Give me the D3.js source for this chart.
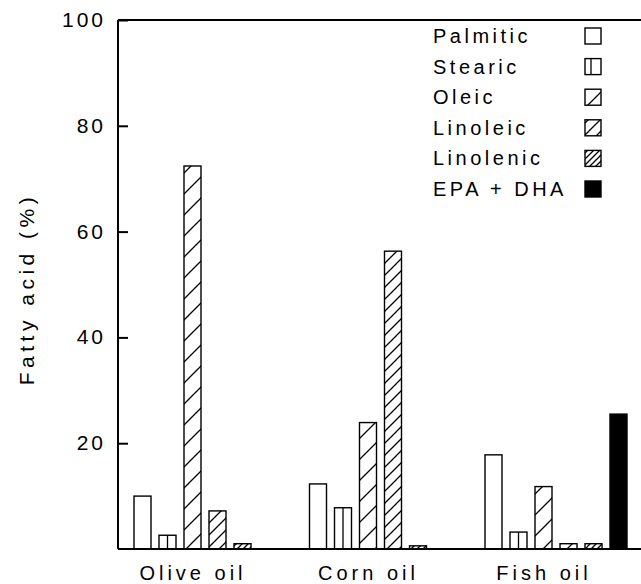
<!DOCTYPE html>
<html><head><meta charset="utf-8">
<script src="https://cdn.jsdelivr.net/npm/d3@7"></script>
<style>
html,body{margin:0;padding:0;background:#fff;}
text{font-family:"Liberation Sans",Arial,sans-serif;fill:#000;}
</style></head>
<body>
<svg id="chart" width="641" height="584"></svg>
<script>
const groups = ["Olive oil", "Corn oil", "Fish oil"];
const acids = ["Palmitic", "Stearic", "Oleic", "Linoleic", "Linolenic", "EPA + DHA"];
const palmitic = [10.0, 12.3, 17.8];
const stearic = [2.6, 7.8, 3.2];
const oleic = [72.4, 23.9, 11.8];
const linoleic = [7.2, 56.3, 1.0];
const linolenic = [1.0, 0.6, 1.0];
const epaDha = [0, 0, 25.5];
const yTicks = [20, 40, 60, 80, 100];

const values = {
  "Palmitic": palmitic, "Stearic": stearic, "Oleic": oleic,
  "Linoleic": linoleic, "Linolenic": linolenic, "EPA + DHA": epaDha
};

const svg = d3.select("#chart");
const y = d3.scaleLinear().domain([0, 100]).range([549, 20]);
const x0 = d3.scaleBand().domain(groups).range([134, 134 + 3 * 175.5]).padding(0);
const x1 = d3.scaleBand().domain(acids).range([0, 150]).paddingInner(0.32).paddingOuter(0.16);

const defs = svg.append("defs");
const hatch = {"Oleic": 21, "Linoleic": 12, "Linolenic": 6};
Object.entries(hatch).forEach(([k, s]) => {
  const p = defs.append("pattern").attr("id", "h-" + k).attr("patternUnits", "userSpaceOnUse")
    .attr("width", s).attr("height", s);
  p.append("rect").attr("width", s).attr("height", s).attr("fill", "#fff");
  p.append("path").attr("d", `M0,${s} L${s},0 M${-2},2 L2,${-2} M${s-2},${s+2} L${s+2},${s-2}`)
    .attr("stroke", "#000").attr("stroke-width", 1.3);
});
function fillFor(a) {
  if (a === "EPA + DHA") return "#000";
  if (hatch[a]) return "url(#h-" + a + ")";
  return "#fff";
}

// frame
svg.append("line").attr("x1", 118).attr("x2", 641).attr("y1", y(100)).attr("y2", y(100))
  .attr("stroke", "#000").attr("stroke-width", 2);
svg.append("line").attr("x1", 118).attr("x2", 118).attr("y1", y(100)).attr("y2", y(0))
  .attr("stroke", "#000").attr("stroke-width", 2);

// y axis ticks and labels
const yAxis = d3.axisRight(y).tickValues(yTicks).tickSize(10).tickFormat("");
const ga = svg.append("g").attr("transform", "translate(118,0)").call(yAxis);
ga.select(".domain").remove();
ga.selectAll(".tick line").attr("stroke", "#000").attr("stroke-width", 2);
svg.selectAll(".ylab").data(yTicks).enter().append("text")
  .attr("x", 106).attr("y", d => y(d) + 7).attr("text-anchor", "end")
  .style("font-size", "21px").style("letter-spacing", "3px").text(d => d);

svg.append("text").attr("transform", "translate(34,289) rotate(-90)")
  .attr("text-anchor", "middle").style("font-size", "21px").style("letter-spacing", "4.5px")
  .text("Fatty acid (%)");

// bars
groups.forEach((g, gi) => {
  acids.forEach(a => {
    const v = values[a][gi];
    if (v <= 0) return;
    const bx = x0(g) + x1(a) - x1(acids[0]);
    const bw = x1.bandwidth();
    svg.append("rect").attr("x", bx).attr("y", y(v)).attr("width", bw).attr("height", y(0) - y(v))
      .attr("fill", fillFor(a)).attr("stroke", "#000").attr("stroke-width", 1.4);
    if (a === "Stearic") {
      svg.append("line").attr("x1", bx + bw / 2).attr("x2", bx + bw / 2).attr("y1", y(v)).attr("y2", y(0))
        .attr("stroke", "#000").attr("stroke-width", 1.3);
    }
  });
  svg.append("text").attr("x", x0(g) + 59).attr("y", 580).attr("text-anchor", "middle")
    .style("font-size", "20px").style("letter-spacing", "4px").text(g);
});

// x baseline
svg.append("line").attr("x1", 118).attr("x2", 641).attr("y1", y(0)).attr("y2", y(0))
  .attr("stroke", "#000").attr("stroke-width", 2);

// legend
const leg = svg.append("g");
acids.forEach((a, i) => {
  const cy = 36 + i * 30.6;
  leg.append("text").attr("x", 433).attr("y", cy + 7).style("font-size", "20px")
    .style("letter-spacing", "3.5px").text(a);
  leg.append("rect").attr("x", 585).attr("y", cy - 8).attr("width", 16).attr("height", 16)
    .attr("fill", fillFor(a)).attr("stroke", "#000").attr("stroke-width", 1.4);
  if (a === "Stearic") {
    leg.append("line").attr("x1", 591).attr("x2", 591).attr("y1", cy - 8).attr("y2", cy + 8)
      .attr("stroke", "#000").attr("stroke-width", 1.3);
  }
});
</script>
</body></html>
